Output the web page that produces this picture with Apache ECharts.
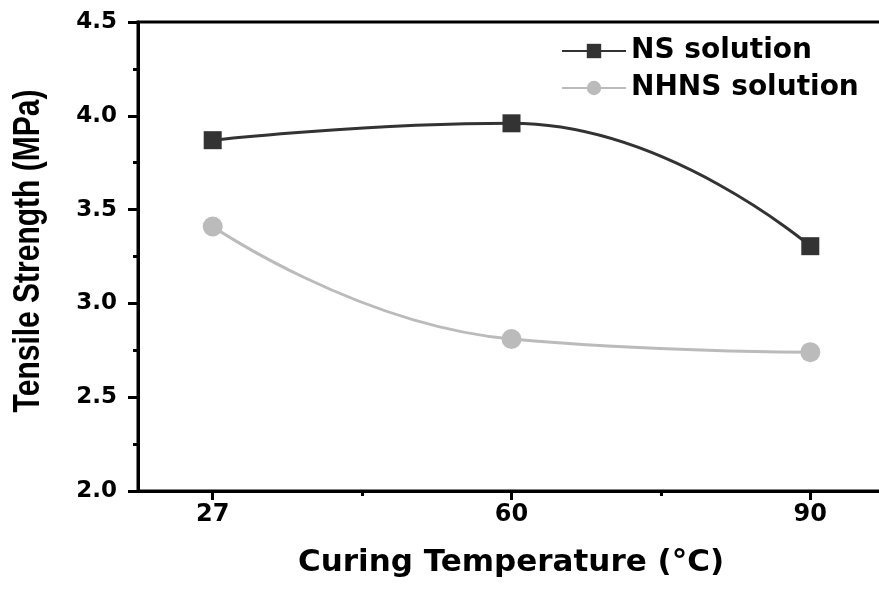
<!DOCTYPE html>
<html>
<head>
<meta charset="utf-8">
<script src="https://cdn.jsdelivr.net/npm/echarts@6/dist/echarts.min.js"></script>
<style>html,body{margin:0;padding:0;background:#fff;}#chart{width:879px;height:590px;}</style>
</head>
<body>
<div id="chart"></div>
<script>
// Data
var categories = ['27', '60', '90'];
var nsSolution = [3.87, 3.96, 3.305];
var nhnsSolution = [3.41, 2.81, 2.74];
var seriesNames = ['NS solution', 'NHNS solution'];
var yTicks = [2.0, 2.5, 3.0, 3.5, 4.0, 4.5];

// category slots: each category separated by a blank slot (for the minor tick)
var slots = [];
categories.forEach(function (c, i) {
  if (i > 0) slots.push('');
  slots.push(c);
});
function toPairs(vals) {
  return vals.map(function (v, i) { return [i * 2, v]; });
}

var chart = echarts.init(document.getElementById('chart'), null, {renderer: 'canvas'});
var hFont = 'DejaVu Sans';
var option = {
  animation: false,
  backgroundColor: '#fff',
  grid: {
    left: 138, top: 22, width: 747, height: 469,
    outerBoundsMode: 'none',
    containLabel: false,
    show: true, borderColor: '#000', borderWidth: 3, backgroundColor: 'transparent'
  },
  legend: {
    orient: 'vertical',
    left: 556, top: 32,
    itemWidth: 64, itemHeight: 18, itemGap: 9,
    data: seriesNames,
    textStyle: {fontFamily: hFont, fontWeight: 'bold', fontSize: 28, color: '#000'}
  },
  xAxis: [{
    type: 'category',
    data: slots,
    boundaryGap: true,
    position: 'bottom',
    axisLine: {show: true, lineStyle: {color: '#000', width: 3}},
    axisTick: {show: true, alignWithLabel: true, length: 9, lineStyle: {color: '#000', width: 3},
      interval: function (i) { return i % 2 === 0; }},
    axisLabel: {show: true, interval: 0, margin: 12, color: '#000',
      fontFamily: hFont, fontWeight: 'bold', fontSize: 24},
    splitLine: {show: false}
  }, {
    type: 'category',
    data: slots,
    boundaryGap: true,
    position: 'bottom',
    axisLine: {show: false},
    axisTick: {show: true, alignWithLabel: true, length: 5, lineStyle: {color: '#000', width: 3},
      interval: function (i) { return i % 2 === 1; }},
    axisLabel: {show: false},
    splitLine: {show: false}
  }],
  yAxis: {
    type: 'value',
    min: yTicks[0], max: yTicks[yTicks.length - 1], interval: 0.5,
    axisLine: {show: true, lineStyle: {color: '#000', width: 3}},
    axisTick: {show: true, length: 10, lineStyle: {color: '#000', width: 3}},
    minorTick: {show: true, splitNumber: 2, length: 5, lineStyle: {color: '#000', width: 3}},
    axisLabel: {margin: 21, color: '#000', fontFamily: hFont, fontWeight: 'bold', fontSize: 23,
      formatter: function (v) { return v.toFixed(1); }},
    splitLine: {show: false}
  },
  graphic: [{
    type: 'text',
    x: 511, y: 563,
    style: {text: 'Curing Temperature (°C)', fontFamily: hFont, fontWeight: 'bold', fontSize: 31,
      fill: '#000', align: 'center', verticalAlign: 'middle'}
  }, {
    type: 'text',
    x: 29, y: 251, rotation: Math.PI / 2,
    scaleY: 1.2,
    style: {text: 'Tensile Strength (MPa)', fontFamily: 'Liberation Sans', fontWeight: 'bold', fontSize: 30,
      fill: '#000', align: 'center', verticalAlign: 'middle'}
  }],
  series: [{
    name: seriesNames[0],
    type: 'line',
    xAxisIndex: 0,
    data: toPairs(nsSolution),
    smooth: 0.5,
    symbol: 'rect', symbolSize: 18,
    itemStyle: {color: '#333333'},
    lineStyle: {color: '#333333', width: 3}
  }, {
    name: seriesNames[1],
    type: 'line',
    xAxisIndex: 0,
    data: toPairs(nhnsSolution),
    smooth: 0.5,
    symbol: 'circle', symbolSize: 20,
    itemStyle: {color: '#bbbbbb'},
    lineStyle: {color: '#bbbbbb', width: 3}
  }]
};
chart.setOption(option);
</script>
</body>
</html>
